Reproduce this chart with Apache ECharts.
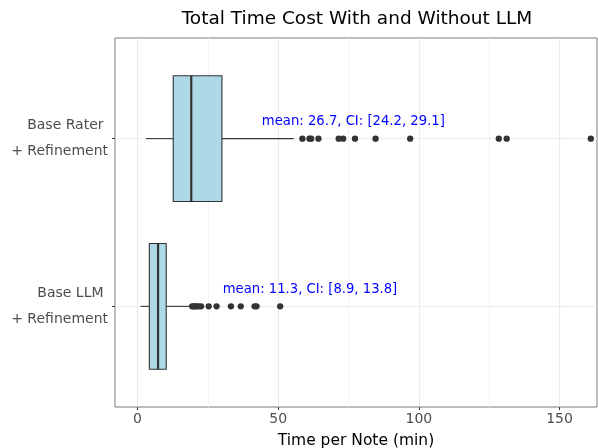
<!DOCTYPE html>
<html><head><meta charset="utf-8">
<script src="https://cdn.jsdelivr.net/npm/echarts@6/dist/echarts.min.js"></script>
<style>html,body{margin:0;padding:0;background:#fff}#c{width:598px;height:448px}</style>
</head><body><div id="c"></div>
<script>
var categories = ['Base LLM \n+ Refinement', 'Base Rater \n+ Refinement'];
// [whiskerLow, Q1, median, Q3, whiskerHigh]
var boxLLM = [1.1, 4.2, 7.3, 10.2, 18.6];
var boxRater = [3.0, 12.7, 19.1, 30.0, 55.5];
var outliersLLM = [19.4, 19.9, 20.4, 21.0, 21.6, 22.6, 25.3, 28.1, 33.2, 36.7, 41.6, 42.3, 50.7];
var outliersRater = [58.6, 61.1, 61.7, 64.3, 71.5, 73.1, 77.3, 84.6, 96.9, 128.4, 131.2, 161.1];
var annotations = ['mean: 11.3, CI: [8.9, 13.8]', 'mean: 26.7, CI: [24.2, 29.1]'];
var annotX = [61.3, 76.7];
var xTicks = [0, 50, 100, 150];
var xMinorTicks = [25, 75, 125];

var boxes = [boxLLM, boxRater];
var boxData = boxes.map(function (b, i) { return [i + 1].concat(b); });
var outData = [];
outliersLLM.forEach(function (v) { outData.push([v, 1]); });
outliersRater.forEach(function (v) { outData.push([v, 2]); });
var annData = annotations.map(function (t, i) { return { value: [annotX[i], i + 1.1], name: t }; });

var font = 'DejaVu Sans';
var chart = echarts.init(document.getElementById('c'), null, { renderer: 'canvas' });
var gridLines = [];
xTicks.forEach(function (v) { gridLines.push({ xAxis: v, lineStyle: { color: '#ebebeb', width: 1.1, type: 'solid' } }); });
xMinorTicks.forEach(function (v) { gridLines.push({ xAxis: v, lineStyle: { color: '#f3f3f3', width: 1, type: 'solid' } }); });
[1, 2].forEach(function (v) { gridLines.push({ yAxis: v, lineStyle: { color: '#ebebeb', width: 1.1, type: 'solid' } }); });

chart.setOption({
  animation: false,
  backgroundColor: '#fff',
  title: {
    text: 'Total Time Cost With and Without LLM',
    left: 352, top: 5, textAlign: 'center',
    textStyle: { fontFamily: font, fontSize: 18.5, fontWeight: 'normal', color: '#000' }
  },
  grid: { left: 115, right: 1, top: 38, bottom: 41, show: true, borderColor: '#7a7a7a', borderWidth: 1, backgroundColor: 'transparent', containLabel: false, outerBoundsMode: 'none' },
  xAxis: {
    type: 'value', min: -8, max: 163.3,
    name: 'Time per Note (min)', nameLocation: 'middle', nameGap: 26,
    nameTextStyle: { fontFamily: font, fontSize: 15.5, color: '#000' },
    axisLine: { show: false, onZero: false },
    axisTick: { show: true, customValues: xTicks, length: 3, lineStyle: { color: '#333' } },
    axisLabel: { customValues: xTicks, fontFamily: font, fontSize: 14, color: '#4d4d4d', margin: 5 },
    splitLine: { show: false }
  },
  yAxis: {
    type: 'value', min: 0.4, max: 2.6,
    axisLine: { show: false, onZero: false },
    axisTick: { show: true, customValues: [1, 2], length: 3, lineStyle: { color: '#333' } },
    axisLabel: {
      customValues: [1, 2], fontFamily: font, fontSize: 14, color: '#4d4d4d', margin: 7,
      lineHeight: 26, align: 'right',
      formatter: function (v) { return categories[Math.round(v) - 1] || ''; }
    },
    splitLine: { show: false }
  },
  series: [
    {
      type: 'scatter', data: [], silent: true,
      markLine: { silent: true, symbol: 'none', label: { show: false }, data: gridLines, z: 0 }
    },
    {
      type: 'custom', data: boxData, z: 3,
      renderItem: function (params, api) {
        var y = api.value(0);
        var lo = api.coord([api.value(1), y]);
        var q1 = api.coord([api.value(2), y]);
        var md = api.coord([api.value(3), y]);
        var q3 = api.coord([api.value(4), y]);
        var hi = api.coord([api.value(5), y]);
        var h = api.size([0, 0.75])[1];
        var stroke = { stroke: '#333333', lineWidth: 1.1 };
        return {
          type: 'group', children: [
            { type: 'line', shape: { x1: lo[0], y1: lo[1], x2: q1[0], y2: q1[1] }, style: stroke },
            { type: 'line', shape: { x1: q3[0], y1: q3[1], x2: hi[0], y2: hi[1] }, style: stroke },
            { type: 'rect', shape: { x: q1[0], y: q1[1] - h / 2, width: q3[0] - q1[0], height: h }, style: { fill: '#add8e6', stroke: '#333333', lineWidth: 1.1 } },
            { type: 'line', shape: { x1: md[0], y1: md[1] - h / 2, x2: md[0], y2: md[1] + h / 2 }, style: { stroke: '#333333', lineWidth: 2.2 } }
          ]
        };
      }
    },
    {
      type: 'scatter', data: outData, symbol: 'circle', symbolSize: 6.3, z: 4,
      itemStyle: { color: '#333333', opacity: 1 }
    },
    {
      type: 'scatter', data: annData, symbolSize: 0, z: 5,
      itemStyle: { opacity: 1 },
      label: {
        show: true, position: 'inside', formatter: function (p) { return p.name; },
        fontFamily: font, fontSize: 13.2, color: '#0000ff', opacity: 1
      }
    }
  ]
});
</script></body></html>
